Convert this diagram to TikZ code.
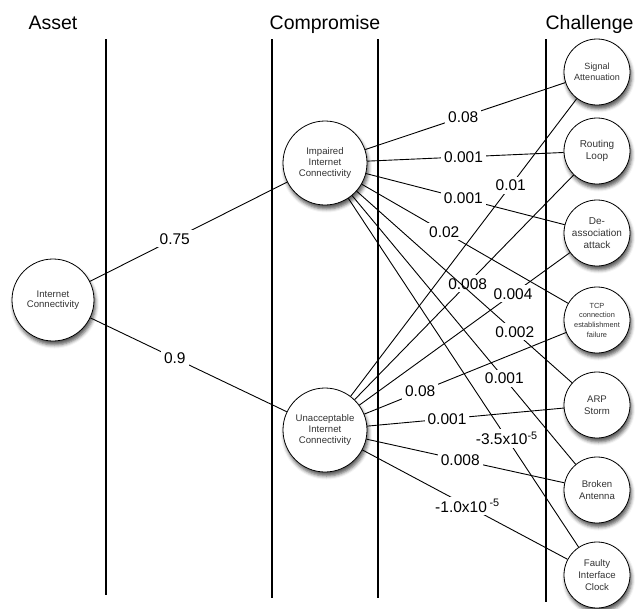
\documentclass[tikz,border=0pt]{standalone}
\usepackage{fontspec}
\setmainfont{Liberation Sans}
\usetikzlibrary{shadows.blur}
\tikzset {state/.style={circle,draw,fill=white,line width=.8pt,minimum size=84pt,inner sep=0pt,align=center,text=black!80,
  font=\fontsize{9.6}{10.6}\selectfont,
  blur shadow={shadow xshift=1.5pt,shadow yshift=-4pt,shadow blur radius=3.5pt,shadow opacity=65}}}
\tikzset {chal/.style={state,minimum size=66pt,font=\fontsize{9.6}{11.6}\selectfont}}
\tikzset {w/.style={fill=white,inner sep=3pt,font=\fontsize{15.5}{18}\selectfont}}
\tikzset {head/.style={anchor=base,font=\fontsize{19.5}{22}\selectfont}}
\tikzset {edge/.style={line width=.9pt}}

\begin{document}
\begin{tikzpicture}[x=1pt,y=-1pt]
\useasboundingbox (0,0) rectangle (637,608);
\node[head] (hasset) at (53,29) {Asset};
\node[head] (hcomp) at (325,29) {Compromise};
\node[head,anchor=base east] (hchal) at (637,29) {Challenge};
\draw[line width=1.4pt] (106,39) -- (106,595);
\draw[line width=1.4pt] (272,39) -- (272,598);
\draw[line width=1.4pt] (378,39) -- (378,598);
\draw[line width=1.4pt] (546,39) -- (546,602);
\node[state,minimum size=82pt] (ic) at (53,300) {Internet\\Connectivity};
\node[state] (iic) at (325,163) {Impaired\\Internet\\Connectivity};
\node[state] (uic) at (325,430) {Unacceptable\\Internet\\Connectivity};
\node[chal,font=\fontsize{9}{11}\selectfont] (sa) at (597,72) {Signal\\Attenuation};
\node[chal,font=\fontsize{10}{12}\selectfont] (rl) at (597,151) {Routing\\Loop};
\node[chal,font=\fontsize{10}{12}\selectfont] (da) at (597,233) {De-\\association\\attack};
\node[chal,font=\fontsize{7.4}{9.7}\selectfont] (tcp) at (597,320) {TCP\\connection\\establishment\\failure};
\node[chal] (arp) at (597,405) {ARP\\Storm};
\node[chal] (ba) at (597,490) {Broken\\Antenna};
\node[chal] (fic) at (597,575) {Faulty\\Interface\\Clock};
\draw[edge] (ic) -- node[w,pos=.43] {0.75} (iic);
\draw[edge] (ic) -- node[w,pos=.43] {0.9} (uic);
\draw[edge] (iic) -- node[w,pos=.49] {0.08} (sa);
\draw[edge] (iic) -- node[w,pos=.49] {0.001} (rl);
\draw[edge] (iic) -- node[w,pos=.49] {0.001} (da);
\draw[edge] (iic) -- node[w,pos=.40] {0.02} (tcp);
\draw[edge] (uic) -- node[w,pos=.708] {0.01} (sa);
\draw[edge] (uic) -- node[w,pos=.516] {0.008} (rl);
\draw[edge] (uic) -- node[w,pos=.73] {0.004} (da);
\draw[edge] (uic) -- node[w,pos=.277] {0.08} (tcp);
\draw[edge] (uic) -- node[w,pos=.406] {0.001} (arp);
\draw[edge] (uic) -- node[w,pos=.474] {0.008} (ba);
\draw[edge] (uic) -- node[w,pos=.512] {-1.0x10\,\textsuperscript{-5}} (fic);
\draw[edge] (iic) -- node[w,pos=.734] {0.002} (arp);
\draw[edge] (iic) -- node[w,pos=.681] {0.001} (ba);
\draw[edge] (iic) -- node[w,pos=.688] {-3.5x10\textsuperscript{-5}} (fic);
\end{tikzpicture}
\end{document}
